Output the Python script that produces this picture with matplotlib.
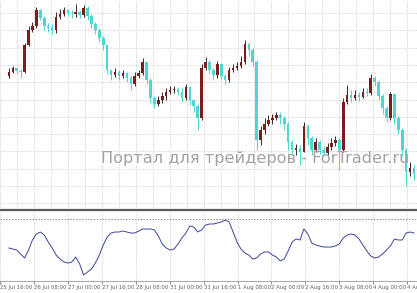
import numpy as np
import matplotlib.pyplot as plt

# bars (simplified, one per candle on screen)
close = [138, 142, 139, 138, 165, 180, 184, 200, 192, 184, 182, 180, 193, 196, 200, 197,
         196, 198, 195, 202, 194, 186, 180, 172, 165, 140, 135, 138, 134, 137, 132, 126,
         134, 137, 148, 130, 112, 106, 110, 114, 118, 120, 121, 118, 112, 123, 110, 104,
         92, 142, 148, 140, 135, 146, 134, 130, 140, 142, 144, 148, 166, 160, 148, 70,
         80, 86, 90, 92, 95, 92, 86, 68, 60, 62, 58, 84, 72, 60, 68, 60,
         57, 63, 67, 70, 60, 108, 115, 112, 115, 113, 118, 117, 132, 128, 114, 102,
         92, 116, 92, 80, 60, 38, 42, 36]
high = [142, 144, 142, 141, 167, 184, 188, 203, 201, 194, 187, 186, 198, 201, 203, 201,
        200, 206, 200, 205, 204, 196, 188, 182, 174, 166, 140, 142, 140, 140, 138, 135,
        138, 140, 152, 148, 132, 114, 114, 118, 122, 124, 124, 123, 122, 126, 124, 111,
        106, 146, 153, 150, 142, 149, 147, 136, 143, 146, 148, 154, 170, 168, 162, 150,
        84, 92, 95, 96, 98, 98, 94, 88, 70, 66, 65, 88, 86, 74, 72, 70,
        64, 67, 72, 74, 72, 112, 125, 120, 120, 118, 122, 122, 136, 134, 130, 116,
        104, 118, 116, 94, 82, 62, 48, 45]
low = [132, 137, 136, 132, 137, 164, 178, 182, 190, 180, 178, 176, 177, 191, 194, 194,
       192, 193, 192, 193, 190, 182, 176, 168, 160, 136, 130, 133, 130, 132, 128, 120,
       124, 132, 135, 126, 107, 102, 104, 107, 110, 116, 117, 115, 108, 110, 105, 98,
       80, 90, 140, 136, 130, 132, 130, 126, 128, 138, 140, 142, 146, 154, 144, 60,
       65, 76, 84, 86, 90, 86, 80, 60, 55, 55, 45, 58, 65, 55, 58, 56,
       54, 55, 60, 64, 40, 58, 106, 108, 110, 109, 112, 114, 115, 124, 110, 96,
       88, 90, 86, 76, 54, 24, 34, 30]
first_open = 134

# oscillator in the lower window
osc = [32, 31, 30, 26, 22, 30, 40, 46, 48, 45, 38, 32, 25, 21, 18, 17,
       18, 23, 16, 5, 8, 11, 17, 25, 35, 43, 47, 48, 48, 49, 48, 47,
       47, 49, 51, 51, 51, 50, 44, 36, 32, 30, 31, 36, 42, 47, 54, 53,
       48, 50, 55, 56, 56, 57, 58, 60, 58, 48, 38, 31, 27, 25, 21, 22,
       26, 28, 28, 25, 23, 19, 21, 29, 38, 41, 40, 51, 46, 37, 35, 34,
       33, 33, 33, 34, 36, 42, 45, 46, 45, 41, 35, 29, 24, 22, 23, 26,
       30, 34, 41, 40, 40, 47, 48, 47]
osc_level = 61

time_labels = ["25 Jul 16:00", "26 Jul 08:00", "27 Jul 00:00", "27 Jul 16:00",
               "28 Jul 08:00", "31 Jul 00:00", "31 Jul 16:00", "1 Aug 08:00",
               "2 Aug 00:00", "2 Aug 16:00", "3 Aug 08:00", "4 Aug 00:00",
               "4 Aug 16:00"]

watermark = "Портал для трейдеров - ForTrader.ru"

bull_col = "#7d1c1c"
bear_col = "#4fd6d2"
grid_col = "#cfcfcf"

close = np.array(close, dtype=float)
high = np.array(high, dtype=float)
low = np.array(low, dtype=float)
opn = np.concatenate([[first_open], close[:-1]])
x = np.arange(len(close))
up = close >= opn

fig = plt.figure(figsize=(4.17, 2.93), dpi=100)
ax = fig.add_axes([0, 83 / 293, 1, 210 / 293])
ax2 = fig.add_axes([0, 12 / 293, 1, 69 / 293])

step = 17.25 / 4
tick_pos = -2.25 + 2 * step * np.arange(len(time_labels))
vgrid = np.arange(-2.25, 105, step)

# candles
body_lo = np.minimum(opn, close)
body_h = np.maximum(np.abs(close - opn), 0.6)
hi = np.maximum(high, np.maximum(opn, close))
lo = np.minimum(low, np.minimum(opn, close))
wick_cols = np.where(up, "#3a2a2a", bear_col)
ax.vlines(x, lo, hi, colors=wick_cols, lw=0.7, zorder=3)
ax.bar(x, body_h, bottom=body_lo, width=0.65,
       color=np.where(up, bull_col, bear_col), lw=0, zorder=4)

ax.set_xlim(-0.5, 103.75)
ax.set_ylim(0, 210)
ax.set_xticks(vgrid)
ax.set_yticks(np.arange(197, 0, -17.3))
ax.grid(True, color=grid_col, ls=(0, (1.5, 1.5)), lw=0.6, zorder=0)
ax.tick_params(left=False, bottom=False, labelleft=False, labelbottom=False)
for s in ["top", "left", "right"]:
    ax.spines[s].set_visible(False)
ax.spines["bottom"].set_color("#5a5a5a")
ax.spines["bottom"].set_linewidth(1.6)

ax.text(96 / 4 - 0.5, 210 - 158, watermark, fontsize=11.6, color="#a3a3a3",
        va="center", ha="left", zorder=6, family="DejaVu Sans")

# oscillator window
ax2.plot(x, osc, color="#3a4798", lw=0.7, zorder=3)
ax2.axhline(osc_level, color="#8a8a8a", ls=(0, (1.5, 1.5)), lw=0.7)
ax2.set_xlim(-0.5, 103.75)
ax2.set_ylim(-1, 68)
ax2.set_yticks([])
ax2.set_xticks(tick_pos)
ax2.set_xticklabels(time_labels, ha="left", fontsize=3.9, color="#404040")
ax2.tick_params(axis="x", length=2, width=0.5, pad=1, colors="#606060")
ax2.grid(True, axis="x", color=grid_col, ls=(0, (1.5, 1.5)), lw=0.6, zorder=0)
for s in ["top", "left", "right"]:
    ax2.spines[s].set_visible(False)
ax2.spines["bottom"].set_color("#9a9a9a")
ax2.spines["bottom"].set_linewidth(0.6)

fig.savefig("out.png", dpi=100)
